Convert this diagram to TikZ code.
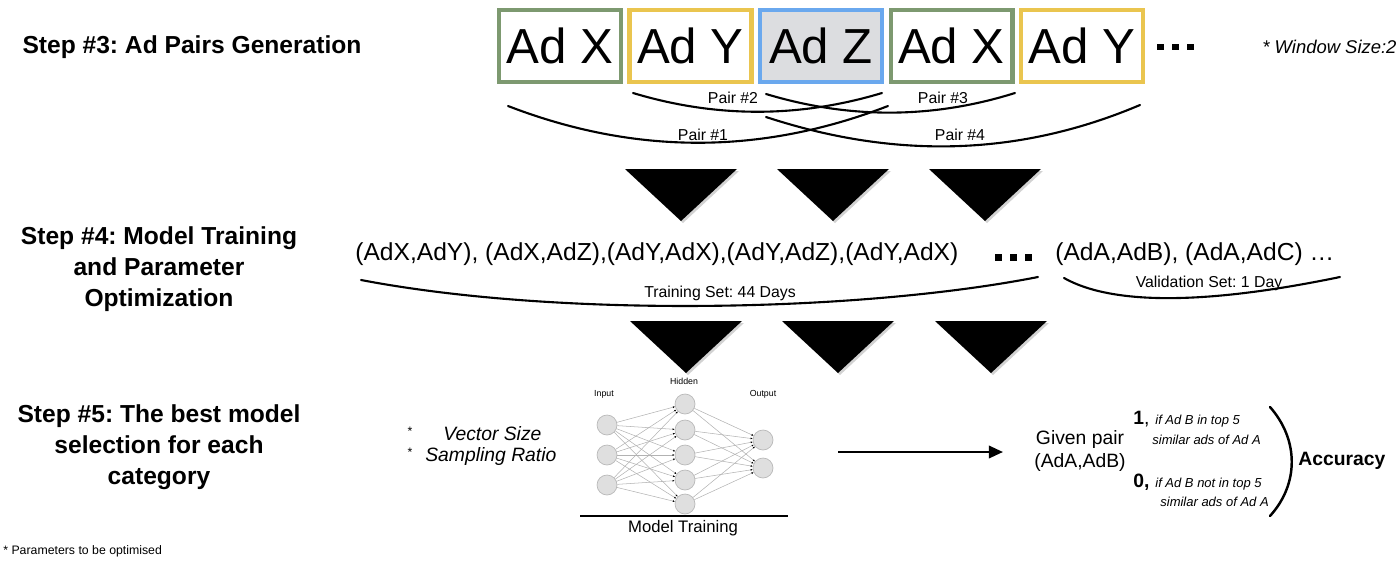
\documentclass[tikz,border=0pt]{standalone}
\usepackage{fontspec}
\setmainfont{Liberation Sans}
\usetikzlibrary{arrows.meta}
\frenchspacing

\definecolor{adgreen}{HTML}{7D9970}
\definecolor{adyellow}{HTML}{EAC54F}
\definecolor{adblue}{HTML}{6AA8EE}
\definecolor{adzfill}{HTML}{DCDDE0}

\tikzset{
  adbox/.style={draw, line width=2.3pt, minimum width=2.44cm, minimum height=1.44cm,
    inner sep=0pt, font=\fontsize{28}{30}\selectfont},
  steplabel/.style={align=center, inner sep=0pt, font=\fontsize{14}{17.5}\selectfont\bfseries},
  pairlabel/.style={inner sep=0pt, font=\fontsize{9}{10}\selectfont},
  pairtext/.style={inner sep=0pt, font=\fontsize{14}{16}\selectfont},
  brace/.style={line width=1.2pt, line cap=round},
  sqdot/.style={fill=black, inner sep=0pt, minimum size=0.14cm},
  neuron/.style={circle, fill=gray!25, draw=gray!55, line width=0.4pt, minimum size=0.4cm, inner sep=0pt},
  nnedge/.style={draw=gray!60, line width=0.3pt, -{Latex[length=1.2pt,width=1.1pt,color=black]}},
  nnlabel/.style={inner sep=0pt, font=\fontsize{5}{6}\selectfont},
  paramtext/.style={inner sep=0pt, anchor=west, font=\fontsize{11}{13}\selectfont\itshape},
  startext/.style={inner sep=0pt, font=\fontsize{7}{8}\selectfont},
  casetext/.style={inner sep=0pt, anchor=west, font=\fontsize{7.4}{9}\selectfont\itshape},
  casenum/.style={inner sep=0pt, anchor=west, font=\fontsize{11}{12}\selectfont}
}

\begin{document}
\begin{tikzpicture}[x=0.02cm, y=-0.02cm]
  \useasboundingbox (0,0) rectangle (1400,561);

  % step titles
  \node (step3)[steplabel] at (192,47) {Step \#3: Ad Pairs Generation};
  \node (step4)[steplabel] at (159,269) {Step \#4: Model Training\\and Parameter\\Optimization};
  \node (step5)[steplabel] at (159,447) {Step \#5: The best model\\selection for each\\category};

  % ad sequence
  \node (adX1)[adbox, draw=adgreen] at (560,46) {Ad X};
  \node (adY1)[adbox, draw=adyellow] at (690.5,46) {Ad Y};
  \node (adZ)[adbox, draw=adblue, fill=adzfill] at (821,46) {Ad Z};
  \node (adX2)[adbox, draw=adgreen] at (951.5,46) {Ad X};
  \node (adY2)[adbox, draw=adyellow] at (1082,46) {Ad Y};
  \node (dotA1)[sqdot] at (1160,47) {};
  \node (dotA2)[sqdot] at (1175,47) {};
  \node (dotA3)[sqdot] at (1190,47) {};
  \node (window)[inner sep=0pt, anchor=west, font=\fontsize{10.5}{12}\selectfont\itshape] at (1262,47) {* Window Size:2};

  % pairs
  \draw[brace] (633,93) .. controls (716,118) and (799,118) .. (882,93);
  \draw[brace] (766,94) .. controls (849,119) and (932,119) .. (1015,93);
  \draw[brace] (508,106) .. controls (635,155) and (761,155) .. (888,106);
  \draw[brace] (766,117) .. controls (891,158) and (1015,158) .. (1140,105);
  \node (pair2)[pairlabel] at (733,98) {Pair \#2};
  \node (pair3)[pairlabel] at (943,98) {Pair \#3};
  \node (pair1)[pairlabel] at (703,135) {Pair \#1};
  \node (pair4)[pairlabel] at (960,135) {Pair \#4};

  % arrows down
  \foreach \x in {681,833,985} {
    \fill[gray!35] (\x-54,171) -- (\x+58,171) -- (\x+2,223) -- cycle;
    \fill (\x-56,169) -- (\x+56,169) -- (\x,221) -- cycle;
  }
  \foreach \x in {686,838,991} {
    \fill[gray!35] (\x-54,323) -- (\x+58,323) -- (\x+2,375) -- cycle;
    \fill (\x-56,321) -- (\x+56,321) -- (\x,373) -- cycle;
  }

  % training and validation sets
  \node (trainpairs)[pairtext, anchor=west] at (355,254) {(AdX,AdY), (AdX,AdZ),(AdY,AdX),(AdY,AdZ),(AdY,AdX)};
  \node (dotB1)[sqdot] at (998,257) {};
  \node (dotB2)[sqdot] at (1013,257) {};
  \node (dotB3)[sqdot] at (1028,257) {};
  \node (validpairs)[pairtext, anchor=west] at (1055,254) {(AdA,AdB), (AdA,AdC) \dots};
  \draw[brace] (361,280) .. controls (560,318) and (860,312) .. (1038,277);
  \draw[brace] (1064,278) .. controls (1110,304) and (1200,306) .. (1340,277);
  \node (trainset)[pairlabel] at (720,293) {Training Set: 44 Days};
  \node (validset)[pairlabel] at (1209,283) {Validation Set: 1 Day};

  % parameters
  \node (star1)[startext] at (410,431) {*};
  \node (vecsize)[paramtext] at (443,434) {Vector Size};
  \node (star2)[startext] at (410,452) {*};
  \node (sampratio)[paramtext] at (425,456) {Sampling Ratio};

  % network
  \node (in1)[neuron] at (607,425) {};
  \node (in2)[neuron] at (607,455) {};
  \node (in3)[neuron] at (607,485) {};
  \node (h1)[neuron] at (685,404) {};
  \node (h2)[neuron] at (685,430) {};
  \node (h3)[neuron] at (685,455) {};
  \node (h4)[neuron] at (685,480) {};
  \node (h5)[neuron] at (685,504) {};
  \node (out1)[neuron] at (763,440) {};
  \node (out2)[neuron] at (763,468) {};
  \foreach \i in {1,2,3}
    \foreach \j in {1,...,5}
      \draw[nnedge] (in\i) -- (h\j);
  \foreach \j in {1,...,5}
    \foreach \k in {1,2}
      \draw[nnedge] (h\j) -- (out\k);
  \node (inlbl)[nnlabel] at (604,394) {Input};
  \node (hidlbl)[nnlabel] at (684,381) {Hidden};
  \node (outlbl)[nnlabel] at (763,394) {Output};
  \coordinate (ruleL) at (580,516);
  \coordinate (ruleR) at (788,516);
  \draw[line width=0.6pt] (ruleL) -- (ruleR);
  \node (training)[inner sep=0pt, font=\fontsize{9.5}{11}\selectfont] at (683,528) {Model Training};

  % evaluation
  \coordinate (arrS) at (838,452);
  \coordinate (arrE) at (1003,452);
  \draw[line width=1.4pt, -{Triangle[length=8pt,width=7pt]}] (arrS) -- (arrE);
  \node (given)[align=center, inner sep=0pt, font=\fontsize{11}{13}\selectfont] at (1080,451) {Given pair\\(AdA,AdB)};
  \node (one)[casenum] at (1133,419) {\textbf{1},};
  \node (oneA)[casetext] at (1155,421) {if Ad B in top 5};
  \node (oneB)[casetext] at (1152,440) {similar ads of Ad A};
  \node (zero)[casenum] at (1133,482) {\textbf{0,}};
  \node (zeroA)[casetext] at (1155,484) {if Ad B not in top 5};
  \node (zeroB)[casetext] at (1160,502) {similar ads of Ad A};
  \draw[line width=1.4pt, line cap=round] (1270,407) .. controls (1299,440) and (1299,484) .. (1270,516);
  \node (accuracy)[inner sep=0pt, anchor=west, font=\fontsize{11}{13}\selectfont\bfseries] at (1298,461) {Accuracy};

  \node (footnote)[startext, anchor=west] at (3,551) {* Parameters to be optimised};
\end{tikzpicture}
\end{document}
